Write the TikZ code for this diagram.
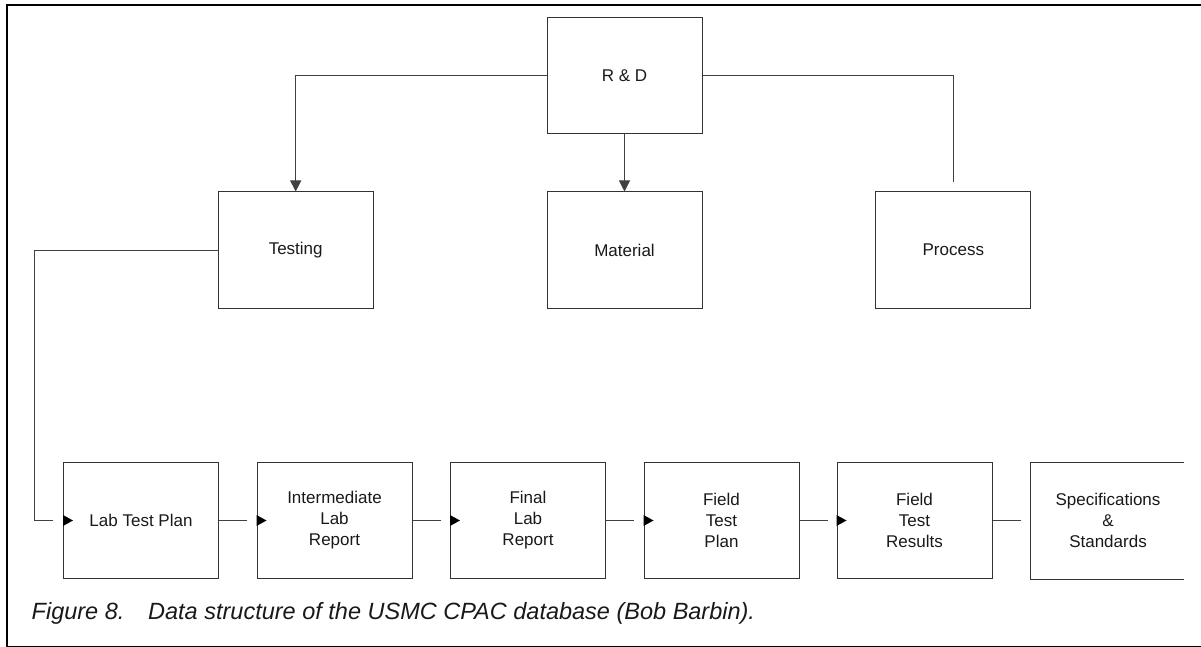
\documentclass[tikz,border=0pt]{standalone}
\usepackage{fontspec}
\setmainfont{Liberation Sans}
\usetikzlibrary{arrows.meta,calc}
\tikzset{
  box/.style={draw=black!80, line width=1pt, minimum width=155pt, minimum height=116pt,
    inner sep=0pt, align=center, text=black!90, font=\fontsize{17}{21}\selectfont},
  conn/.style={draw=black!75, line width=1pt},
  tip/.style={-{Triangle[length=11pt,width=11pt]}},
}
\newcommand\intip[1]{\fill[black] ([yshift=5.5pt]#1.west) -- ([xshift=10pt]#1.west) -- ([yshift=-5.5pt]#1.west) -- cycle;}
\begin{document}
\begin{tikzpicture}[x=1pt,y=-1pt]
\useasboundingbox (0,0) rectangle (1201,647);
% frame
\draw[line width=2pt] (7,646) -- (7,5) -- (1203,5);
\draw[line width=1pt] (6,646) -- (1203,646);
% top level
\node[box] (rd) at (624.5,76) {R \& D};
\node[box] (testing) at (295.7,250) {Testing};
\node[box] (material) at (624.5,250) {Material};
\node[box] (process) at (953.3,250) {Process};
% bottom row
\node[box] (ltp) at (141,520.5) {Lab Test Plan};
\node[box] (ilr) at (334.5,520.5) {Intermediate\\Lab\\Report};
\node[box] (flr) at (528,520.5) {Final\\Lab\\Report};
\node[box] (ftp) at (721.5,520.5) {Field\\Test\\Plan};
\node[box] (ftr) at (914.5,520.5) {Field\\Test\\Results};
\node[box, draw=none] (spec) at (1108,520.5) {Specifications\\\&\\Standards};
\draw[draw=black!80, line width=1pt] ([xshift=-2pt]spec.north east) -- (spec.north west) -- (spec.south west) -- ([xshift=-2pt]spec.south east);
% connectors from R&D
\draw[conn, tip] (rd.west) -| (testing.north);
\draw[conn, tip] (rd.south) -- (material.north);
\coordinate (pend) at (953.3,182);
\draw[conn] (rd.east) -| (pend);
% testing to lab test plan
\coordinate (tl) at (34.3,520.5);
\coordinate (le) at (53,520.5);
\draw[conn] (testing.west) -| (tl) -- (le);
\intip{ltp}
% chain
\draw[conn] (ltp.east) -- ++(28,0);
\intip{ilr}
\draw[conn] (ilr.east) -- ++(28,0);
\intip{flr}
\draw[conn] (flr.east) -- ++(28,0);
\intip{ftp}
\draw[conn] (ftp.east) -- ++(28,0);
\intip{ftr}
\draw[conn] (ftr.east) -- ++(28,0);
% caption
\node[anchor=base west, inner sep=0pt, text=black!90, font=\fontsize{23.5}{27}\selectfont\itshape] (cap) at (31.5,619)
  {\makebox[116.5pt][l]{Figure 8.}Data structure of the USMC CPAC database (Bob Barbin).};
\end{tikzpicture}
\end{document}
